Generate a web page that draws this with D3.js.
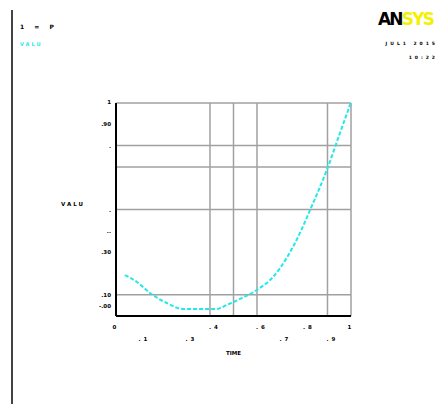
<!DOCTYPE html>
<html>
<head>
<meta charset="utf-8">
<script src="https://cdn.jsdelivr.net/npm/d3@7"></script>
<style>
  body { margin: 0; background: #fff; }
  text { font-family: "DejaVu Sans", sans-serif; font-weight: bold; }
</style>
</head>
<body>
<div id="chart"></div>
<script>
// curve (x and y on a 0..1 frame)
var timeVals = [0.038, 0.088, 0.145, 0.216, 0.285, 0.43, 0.471, 0.528, 0.599, 0.668, 0.726, 0.783, 0.826, 0.897, 0.953, 0.999];
var valuVals = [0.192, 0.161, 0.108, 0.061, 0.033, 0.033, 0.052, 0.080, 0.122, 0.183, 0.272, 0.390, 0.498, 0.685, 0.859, 1.0];

var xGrid = [0.4, 0.5, 0.6, 0.9, 1.0];
var yGrid = [0.1, 0.5, 0.7, 0.8, 1.0];

var xTicksRow1 = [0, 0.4, 0.6, 0.8, 1.0];
var xLabelsRow1 = ["0", ".4", ".6", ".8", "1"];
var xTicksRow2 = [0.1, 0.3, 0.7, 0.9];
var xLabelsRow2 = [".1", ".3", ".7", ".9"];
var yTicks = [1.0, 0.9, 0.8, 0.5, 0.4, 0.3, 0.1, 0.0];
var yLabels = ["1", ".90", ".", ".", "..", ".30", ".10", "-.00"];

var margin = {top: 103, right: 89, bottom: 88, left: 116},
  width = 440 - margin.left - margin.right,
  height = 404 - margin.top - margin.bottom;

var root = d3.select("#chart")
  .append("svg")
  .attr("width", 440)
  .attr("height", 404);

// left frame line
root.append("line")
  .attr("x1", 12).attr("x2", 12)
  .attr("y1", 10).attr("y2", 404)
  .attr("stroke", "#444").attr("stroke-width", 2);

// top left window text
root.append("text").attr("x", 20).attr("y", 29)
  .attr("font-size", 6).attr("fill", "#000")
  .attr("letter-spacing", 4).text("1 = P");
root.append("text").attr("x", 20).attr("y", 46)
  .attr("font-size", 5).attr("fill", "#22e8e8")
  .attr("letter-spacing", 2).text("VALU");

// logo + date
var logo = root.append("text").attr("x", 378).attr("y", 25)
  .attr("font-size", 17).attr("font-weight", "bold")
  .attr("letter-spacing", -1.8);
logo.append("tspan").attr("fill", "#000").text("AN");
logo.append("tspan").attr("fill", "#f5f000").text("SYS");
root.append("text").attr("x", 438).attr("y", 45)
  .attr("text-anchor", "end")
  .attr("font-size", 4.5).attr("fill", "#000")
  .attr("letter-spacing", 3).text("JUL1 2015");
root.append("text").attr("x", 438).attr("y", 59)
  .attr("text-anchor", "end")
  .attr("font-size", 4.5).attr("fill", "#000")
  .attr("letter-spacing", 3).text("10:22");

var svg = root.append("g")
  .attr("transform", "translate(" + margin.left + "," + margin.top + ")");

var x = d3.scaleLinear().domain([0, 1]).range([0, width]);
var y = d3.scaleLinear().domain([0, 1]).range([height, 0]);

// grid
svg.selectAll(".vgrid")
  .data(xGrid)
  .enter()
  .append("line")
  .attr("x1", function(d) { return x(d); })
  .attr("x2", function(d) { return x(d); })
  .attr("y1", 0).attr("y2", height)
  .attr("stroke", "#a0a0a0").attr("stroke-width", 1.5);

svg.selectAll(".hgrid")
  .data(yGrid)
  .enter()
  .append("line")
  .attr("x1", 0).attr("x2", width)
  .attr("y1", function(d) { return y(d); })
  .attr("y2", function(d) { return y(d); })
  .attr("stroke", "#a0a0a0").attr("stroke-width", 1.5);

// axes lines
svg.append("line")
  .attr("x1", 0).attr("x2", 0).attr("y1", 0).attr("y2", height)
  .attr("stroke", "#000").attr("stroke-width", 2);
svg.append("line")
  .attr("x1", 0).attr("x2", width).attr("y1", height).attr("y2", height)
  .attr("stroke", "#000").attr("stroke-width", 2);

// y labels
svg.selectAll(".ylab")
  .data(yTicks)
  .enter()
  .append("text")
  .attr("x", -5)
  .attr("y", function(d, i) { return y(d) + (i == 0 ? 1 : i == 7 ? -8 : 2); })
  .attr("text-anchor", "end")
  .attr("font-size", 5.5)
  .attr("fill", "#000")
  .text(function(d, i) { return yLabels[i]; });

// x labels, staggered in two rows
svg.selectAll(".xlab1")
  .data(xTicksRow1)
  .enter()
  .append("text")
  .attr("x", function(d) { return x(d) + (d == 0 || d == 1 ? 0 : 5); })
  .attr("y", height + 13)
  .attr("text-anchor", "middle")
  .attr("font-size", 5.5)
  .attr("letter-spacing", 3)
  .attr("fill", "#000")
  .text(function(d, i) { return xLabelsRow1[i]; });

svg.selectAll(".xlab2")
  .data(xTicksRow2)
  .enter()
  .append("text")
  .attr("x", function(d) { return x(d) + 5; })
  .attr("y", height + 25)
  .attr("text-anchor", "middle")
  .attr("font-size", 5.5)
  .attr("letter-spacing", 3)
  .attr("fill", "#000")
  .text(function(d, i) { return xLabelsRow2[i]; });

// axis titles
svg.append("text")
  .attr("x", x(0.5)).attr("y", height + 39)
  .attr("text-anchor", "middle").attr("font-size", 5.5).attr("fill", "#000")
  .text("TIME");
svg.append("text")
  .attr("x", -31).attr("y", y(0.515))
  .attr("text-anchor", "end").attr("font-size", 5.5).attr("fill", "#000")
  .attr("letter-spacing", 2)
  .text("VALU");

// curve
var pts = timeVals.map(function(t, i) { return [t, valuVals[i]]; });
svg.append("path")
  .datum(pts)
  .attr("fill", "none")
  .attr("stroke", "#22e8e8")
  .attr("stroke-width", 2)
  .attr("stroke-dasharray", "4,2")
  .attr("d", d3.line()
    .curve(d3.curveMonotoneX)
    .x(function(d) { return x(d[0]); })
    .y(function(d) { return y(d[1]); }));
</script>
</body>
</html>
